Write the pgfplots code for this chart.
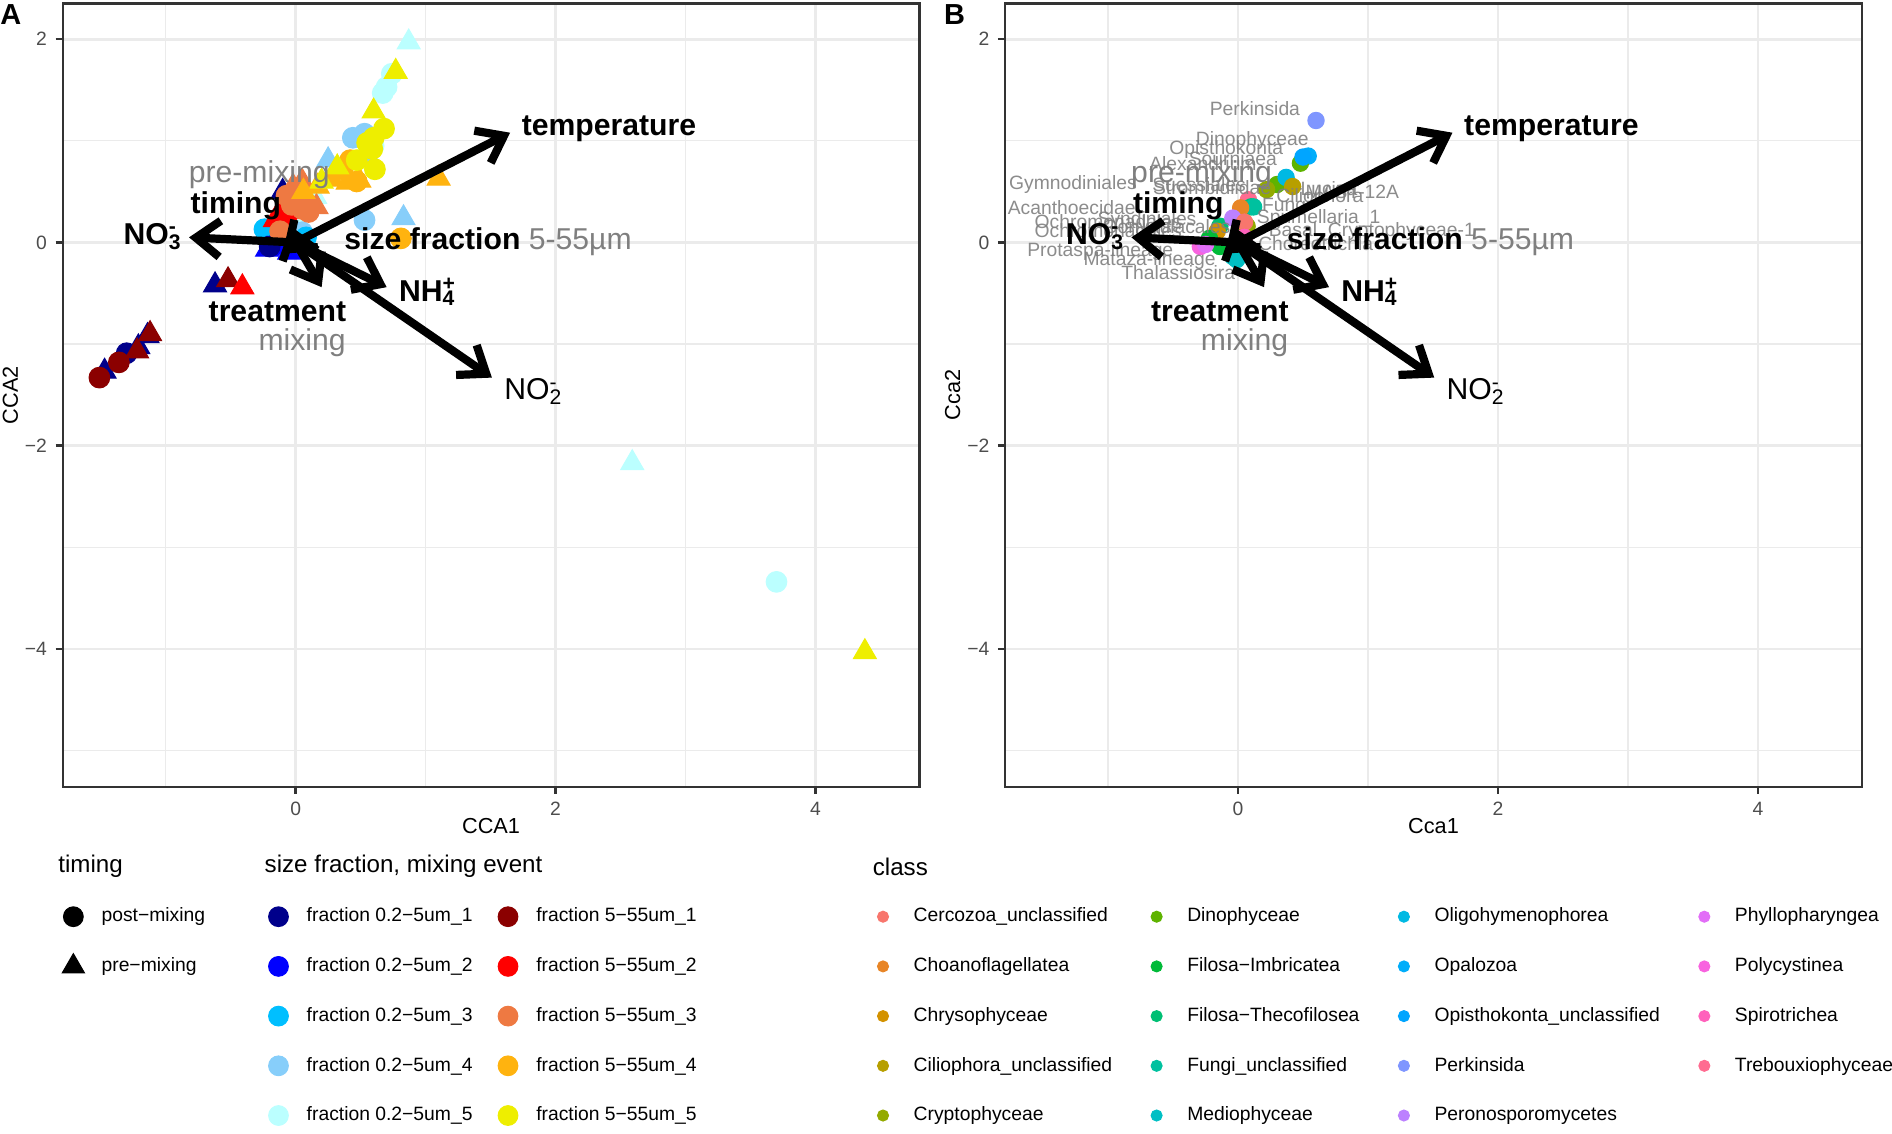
\documentclass[border=0pt]{standalone}
\usepackage{pgfplots}
\pgfplotsset{compat=1.18}
\usepackage{fontspec}
\setmainfont{Liberation Sans}
\usetikzlibrary{arrows.meta}

% size fraction, mixing event
\definecolor{sfa}{HTML}{00008B}
\definecolor{sfb}{HTML}{0000FF}
\definecolor{sfc}{HTML}{00BFFF}
\definecolor{sfd}{HTML}{87CEFA}
\definecolor{sfe}{HTML}{BBFFFF}
\definecolor{lfa}{HTML}{8B0000}
\definecolor{lfb}{HTML}{FF0000}
\definecolor{lfc}{HTML}{EE7942}
\definecolor{lfd}{HTML}{FFB30F}
\definecolor{lfe}{HTML}{EEEE00}
% class
\definecolor{kla}{HTML}{F8766D}
\definecolor{klb}{HTML}{E88526}
\definecolor{klc}{HTML}{D39200}
\definecolor{kld}{HTML}{B79F00}
\definecolor{kle}{HTML}{93AA00}
\definecolor{klf}{HTML}{5EB300}
\definecolor{klg}{HTML}{00BA38}
\definecolor{klh}{HTML}{00BF74}
\definecolor{kli}{HTML}{00C19F}
\definecolor{klj}{HTML}{00BFC4}
\definecolor{klk}{HTML}{00B9E3}
\definecolor{kll}{HTML}{00ADFA}
\definecolor{klm}{HTML}{00A5FF}
\definecolor{kln}{HTML}{7F96FF}
\definecolor{klo}{HTML}{BC81FF}
\definecolor{klp}{HTML}{E26EF7}
\definecolor{klq}{HTML}{F863DF}
\definecolor{klr}{HTML}{FF62BC}
\definecolor{kls}{HTML}{FF6C91}
\definecolor{gridc}{HTML}{EBEBEB}
\definecolor{bordc}{HTML}{333333}
\definecolor{tickc}{HTML}{4D4D4D}
\definecolor{labg}{HTML}{7F7F7F}

\tikzset{
  bigl/.style={font=\fontsize{12.5}{14}\selectfont\bfseries},
  bign/.style={font=\fontsize{12.5}{14}\selectfont},
}
\pgfplotsset{
  ord/.style={
    scale only axis, width=355pt, height=324.5pt,
    xmin=-1.792, xmax=4.80, ymin=-5.356, ymax=2.35,
    xtick={0,2,4}, xticklabels={0,2,4}, minor xtick={-1,1,3},
    ytick={-4,-2,0,2}, yticklabels={−4,−2,0,2}, minor ytick={-5,-3,-1,1},
    grid=both, tick pos=left, clip mode=individual,
    major grid style={draw=gridc, line width=1.1pt},
    minor grid style={draw=gridc, line width=0.55pt},
    axis line style={draw=bordc, line width=1pt},
    tick align=outside, major tick length=3pt, minor tick length=0pt,
    major tick style={draw=bordc, line width=1pt},
    tick label style={font=\fontsize{8}{9}\selectfont, text=tickc},
    label style={font=\fontsize{9}{10}\selectfont},
    xlabel style={yshift=6pt},
    ylabel style={yshift=-4pt},
  },
  pc/.style={only marks, mark=*, mark size=4.3pt, color=#1},
  pt/.style={only marks, mark=triangle*, mark size=5.5pt, color=#1},
  sp/.style={only marks, mark=*, mark size=3.4pt, color=#1},
  arr/.style={line width=3.4pt, black, -{Straight Barb[length=10pt, width=15pt]}},
  lgd/.style={hide axis, scale only axis, width=1pt, height=1pt,
    xmin=0, xmax=1, ymin=0, ymax=1, anchor=north west,
    legend style={at={(0,1)}, anchor=north west, draw=none, fill=none,
      inner sep=0pt, font=\fontsize{8}{9}\selectfont, row sep=9.3pt,
      /tikz/every even column/.append style={column sep=#1}},
    legend cell align=left},
}

\begin{document}
\begin{tikzpicture}
\path[use as bounding box] (0,0) rectangle (784pt,-469.5pt);

% ---------------- panel A ----------------
\begin{axis}[ord, at={(26pt,-326pt)}, anchor=south west,
  xlabel={CCA1}, ylabel={CCA2}]
\addplot[pc=sfe] coordinates {(0.74,1.66) (0.70,1.53) (0.67,1.47) (0.60,0.95) (0.02,0.12) (3.70,-3.34)};
\addplot[pt=sfe] coordinates {(0.87,1.97) (0.15,0.45) (2.59,-2.17)};
\addplot[pc=sfd] coordinates {(0.44,1.03) (0.53,1.07) (0.55,0.85) (0.53,0.22) (0.05,0.10)};
\addplot[pt=sfd] coordinates {(0.25,0.81) (0.35,0.70) (0.83,0.24)};
\addplot[pc=sfc] coordinates {(-0.24,0.13) (-0.20,0.09) (-0.10,0.05) (0.08,0.05)};
\addplot[pt=sfc] coordinates {(-0.15,0.20)};
\addplot[pc=sfb] coordinates {(-0.15,-0.02)};
\addplot[pt=sfb] coordinates {(-0.22,-0.07) (-0.05,-0.10)};
\addplot[pt=sfa] coordinates {(-0.10,0.50) (-0.62,-0.42) (-1.47,-1.27) (-1.21,-1.03) (-1.14,-0.92)};
\addplot[pc=sfa] coordinates {(-1.30,-1.09) (-0.20,-0.04)};
\addplot[pt=lfa] coordinates {(-0.52,-0.37) (-1.22,-1.07) (-1.12,-0.90)};
\addplot[pc=lfa] coordinates {(-1.51,-1.33) (-1.36,-1.18)};
\addplot[pt=lfb] coordinates {(-0.41,-0.44) (-0.16,0.22) (-0.12,0.30)};
\addplot[pc=lfb] coordinates {(-0.05,0.30) (-0.10,0.20)};
\addplot[pc=lfc] coordinates {(-0.03,0.37) (0.05,0.33) (-0.07,0.46) (-0.12,0.11) (0.02,0.42) (0.10,0.30)};
\addplot[pt=lfc] coordinates {(0.01,0.50) (0.09,0.39) (0.16,0.35) (-0.02,0.55) (0.05,0.60)};
\addplot[pc=lfd] coordinates {(0.42,0.81) (0.81,0.04) (0.47,0.60) (0.36,0.72)};
\addplot[pt=lfd] coordinates {(0.49,0.61) (0.40,0.59) (0.17,0.55) (0.06,0.50) (1.10,0.63) (0.28,0.62)};
\addplot[pc=lfe] coordinates {(0.68,1.12) (0.60,1.03) (0.59,0.92) (0.47,0.81) (0.61,0.72) (0.55,0.98)};
\addplot[pt=lfe] coordinates {(0.77,1.68) (0.60,1.29) (0.32,0.74) (0.20,0.60) (4.38,-4.03)};
% biplot arrows
\addplot[arr] coordinates {(0,0) (1.65,1.08)};
\addplot[arr] coordinates {(0,0) (-0.82,0.05)};
\addplot[arr] coordinates {(0,0) (0.70,-0.44)};
\addplot[arr] coordinates {(0,0) (1.51,-1.33)};
\addplot[arr] coordinates {(0,0) (0.20,-0.44)};
\addplot[arr] coordinates {(0,0) (-0.04,0.16)};
\addplot[arr] coordinates {(0,0) (-0.10,-0.11)};
\node[anchor=west, bigl] at (axis cs:1.675,1.12) {temperature};
\node[anchor=east, bigl] at (axis cs:-0.81,0.06) {NO\rlap{\textsuperscript{-}}\textsubscript{3}};
\node[bign, text=labg] at (axis cs:-0.28,0.67) {pre-mixing};
\node[bigl] at (axis cs:-0.46,0.36) {timing};
\node[anchor=west, bign] at (axis cs:0.31,0.01) {\textbf{size fraction} \textcolor{labg}{5-55µm}};
\node[anchor=west, bigl] at (axis cs:0.73,-0.49) {NH\rlap{\textsuperscript{+}}\textsubscript{4}};
\node[anchor=west, bign] at (axis cs:1.54,-1.47) {NO\rlap{\textsuperscript{-}}\textsubscript{2}};
\node[bigl] at (axis cs:-0.14,-0.68) {treatment};
\node[bign, text=labg] at (axis cs:0.05,-0.99) {mixing};
\end{axis}

% ---------------- panel B ----------------
\begin{axis}[ord, at={(416.5pt,-326pt)}, anchor=south west,
  xlabel={Cca1}, ylabel={Cca2}]
\addplot[sp=kln] coordinates {(0.60,1.20)};
\addplot[sp=kll] coordinates {(0.54,0.85)};
\addplot[sp=klf] coordinates {(0.48,0.78) (0.30,0.57)};
\addplot[sp=klk] coordinates {(0.37,0.64)};
\addplot[sp=kld] coordinates {(0.42,0.55)};
\addplot[sp=kle] coordinates {(0.22,0.52) (0.07,0.16)};
\addplot[sp=kls] coordinates {(0.08,0.42)};
\addplot[sp=klh] coordinates {(0.10,0.35) (-0.14,0.16)};
\addplot[sp=kli] coordinates {(0.12,0.35)};
\addplot[sp=klb] coordinates {(0.02,0.34)};
\addplot[sp=klo] coordinates {(-0.04,0.24)};
\addplot[sp=kla] coordinates {(0.05,0.20)};
\addplot[sp=klc] coordinates {(-0.16,0.11)};
\addplot[sp=klg] coordinates {(-0.22,0.04) (-0.14,-0.04)};
\addplot[sp=klq] coordinates {(-0.29,-0.04)};
\addplot[sp=klp] coordinates {(-0.25,-0.02)};
\addplot[sp=klr] coordinates {(0.05,0.05)};
\addplot[sp=klj] coordinates {(-0.04,-0.14) (-0.01,-0.17)};
\addplot[sp=klm] coordinates {(0.50,0.84)};
% taxon labels
\begin{scope}[every node/.style={font=\fontsize{8}{9}\selectfont, text=labg, opacity=0.9}]
\node at (axis cs:0.13,1.32) {Perkinsida};
\node at (axis cs:0.11,1.00) {Dinophyceae};
\node at (axis cs:-0.09,0.91) {Opisthokonta};
\node at (axis cs:-0.04,0.83) {Sourniaea};
\node at (axis cs:-0.27,0.78) {Alexandrium};
\node at (axis cs:-1.27,0.57) {Gymnodiniales};
\node at (axis cs:-0.30,0.57) {Suessiales};
\node at (axis cs:-0.20,0.54) {Strombidiidae};
\node at (axis cs:-1.28,0.34) {Acanthoecidae};
\node[anchor=west] at (axis cs:-1.63,0.21) {Ochromonadales};
\node[anchor=west] at (axis cs:-1.63,0.12) {Ochromonadales};
\node at (axis cs:-0.70,0.22) {Syndiniales};
\node at (axis cs:-0.55,0.14) {Gonyaulacales};
\node at (axis cs:-1.06,-0.09) {Protaspa-lineage};
\node at (axis cs:-0.68,-0.18) {Mataza-lineage};
\node at (axis cs:-0.46,-0.30) {Thalassiosira};
\node at (axis cs:0.88,0.50) {MAST-12A};
\node at (axis cs:0.70,0.53) {Lucina};
\node at (axis cs:0.63,0.44) {Ciliophora};
\node[anchor=west] at (axis cs:0.12,0.35) {Fungi};
\node at (axis cs:0.62,0.24) {Spumellaria\_1};
\node at (axis cs:1.03,0.11) {Basal\_Cryptophyceae-1};
\node[anchor=west] at (axis cs:0.09,-0.01) {Choreotrichia};
\end{scope}
\addplot[arr] coordinates {(0,0) (1.65,1.08)};
\addplot[arr] coordinates {(0,0) (-0.82,0.05)};
\addplot[arr] coordinates {(0,0) (0.70,-0.44)};
\addplot[arr] coordinates {(0,0) (1.51,-1.33)};
\addplot[arr] coordinates {(0,0) (0.20,-0.44)};
\addplot[arr] coordinates {(0,0) (-0.04,0.16)};
\addplot[arr] coordinates {(0,0) (-0.10,-0.11)};
\node[anchor=west, bigl] at (axis cs:1.675,1.12) {temperature};
\node[anchor=east, bigl] at (axis cs:-0.81,0.06) {NO\rlap{\textsuperscript{-}}\textsubscript{3}};
\node[bign, text=labg] at (axis cs:-0.28,0.67) {pre-mixing};
\node[bigl] at (axis cs:-0.46,0.36) {timing};
\node[anchor=west, bign] at (axis cs:0.31,0.01) {\textbf{size fraction} \textcolor{labg}{5-55µm}};
\node[anchor=west, bigl] at (axis cs:0.73,-0.49) {NH\rlap{\textsuperscript{+}}\textsubscript{4}};
\node[anchor=west, bign] at (axis cs:1.54,-1.47) {NO\rlap{\textsuperscript{-}}\textsubscript{2}};
\node[bigl] at (axis cs:-0.14,-0.68) {treatment};
\node[bign, text=labg] at (axis cs:0.05,-0.99) {mixing};
\end{axis}

% panel tags
\node[font=\fontsize{12}{14}\selectfont\bfseries] at (4.5pt,-6pt) {A};
\node[font=\fontsize{12}{14}\selectfont\bfseries] at (395.5pt,-6pt) {B};

% legend titles
\node[anchor=west, font=\fontsize{10}{12}\selectfont, inner sep=0pt] at (24pt,-359pt) {timing};
\node[anchor=west, font=\fontsize{10}{12}\selectfont, inner sep=0pt] at (109.5pt,-359pt) {size fraction, mixing event};
\node[anchor=west, font=\fontsize{10}{12}\selectfont, inner sep=0pt] at (361.5pt,-359pt) {class};

% legend: timing
\begin{axis}[lgd=0pt, at={(20.5pt,-374pt)},
  legend image code/.code={\path (-9.5pt,0pt) (9.5pt,0pt); \draw[#1] plot coordinates {(0pt,0pt)};}]
\addlegendimage{mark=*, mark size=4.1pt, black}
\addlegendentry{post−mixing}
\addlegendimage{mark=triangle*, mark size=5.3pt, black}
\addlegendentry{pre−mixing}
\end{axis}

% legend: size fraction, mixing event
\begin{axis}[lgd=3pt, at={(105.5pt,-374pt)}, legend columns=2,
  legend image code/.code={\path (-9.5pt,0pt) (9.5pt,0pt); \draw[#1] plot coordinates {(0pt,0pt)};}]
\addlegendimage{mark=*, mark size=4.1pt, sfa}\addlegendentry{fraction 0.2−5um\_1}
\addlegendimage{mark=*, mark size=4.1pt, lfa}\addlegendentry{fraction 5−55um\_1}
\addlegendimage{mark=*, mark size=4.1pt, sfb}\addlegendentry{fraction 0.2−5um\_2}
\addlegendimage{mark=*, mark size=4.1pt, lfb}\addlegendentry{fraction 5−55um\_2}
\addlegendimage{mark=*, mark size=4.1pt, sfc}\addlegendentry{fraction 0.2−5um\_3}
\addlegendimage{mark=*, mark size=4.1pt, lfc}\addlegendentry{fraction 5−55um\_3}
\addlegendimage{mark=*, mark size=4.1pt, sfd}\addlegendentry{fraction 0.2−5um\_4}
\addlegendimage{mark=*, mark size=4.1pt, lfd}\addlegendentry{fraction 5−55um\_4}
\addlegendimage{mark=*, mark size=4.1pt, sfe}\addlegendentry{fraction 0.2−5um\_5}
\addlegendimage{mark=*, mark size=4.1pt, lfe}\addlegendentry{fraction 5−55um\_5}
\end{axis}

% legend: class
\begin{axis}[lgd=5.7pt, at={(355pt,-374pt)}, legend columns=4,
  legend image code/.code={\path (-10.5pt,0pt) (10.5pt,0pt); \draw[#1] plot coordinates {(0pt,0pt)};}]
\addlegendimage{mark=*, mark size=2.3pt, kla}\addlegendentry{Cercozoa\_unclassified}
\addlegendimage{mark=*, mark size=2.3pt, klf}\addlegendentry{Dinophyceae}
\addlegendimage{mark=*, mark size=2.3pt, klk}\addlegendentry{Oligohymenophorea}
\addlegendimage{mark=*, mark size=2.3pt, klp}\addlegendentry{Phyllopharyngea}
\addlegendimage{mark=*, mark size=2.3pt, klb}\addlegendentry{Choanoflagellatea}
\addlegendimage{mark=*, mark size=2.3pt, klg}\addlegendentry{Filosa−Imbricatea}
\addlegendimage{mark=*, mark size=2.3pt, kll}\addlegendentry{Opalozoa}
\addlegendimage{mark=*, mark size=2.3pt, klq}\addlegendentry{Polycystinea}
\addlegendimage{mark=*, mark size=2.3pt, klc}\addlegendentry{Chrysophyceae}
\addlegendimage{mark=*, mark size=2.3pt, klh}\addlegendentry{Filosa−Thecofilosea}
\addlegendimage{mark=*, mark size=2.3pt, klm}\addlegendentry{Opisthokonta\_unclassified}
\addlegendimage{mark=*, mark size=2.3pt, klr}\addlegendentry{Spirotrichea}
\addlegendimage{mark=*, mark size=2.3pt, kld}\addlegendentry{Ciliophora\_unclassified}
\addlegendimage{mark=*, mark size=2.3pt, kli}\addlegendentry{Fungi\_unclassified}
\addlegendimage{mark=*, mark size=2.3pt, kln}\addlegendentry{Perkinsida}
\addlegendimage{mark=*, mark size=2.3pt, kls}\addlegendentry{Trebouxiophyceae}
\addlegendimage{mark=*, mark size=2.3pt, kle}\addlegendentry{Cryptophyceae}
\addlegendimage{mark=*, mark size=2.3pt, klj}\addlegendentry{Mediophyceae}
\addlegendimage{mark=*, mark size=2.3pt, klo}\addlegendentry{Peronosporomycetes}
\end{axis}
\end{tikzpicture}
\end{document}
